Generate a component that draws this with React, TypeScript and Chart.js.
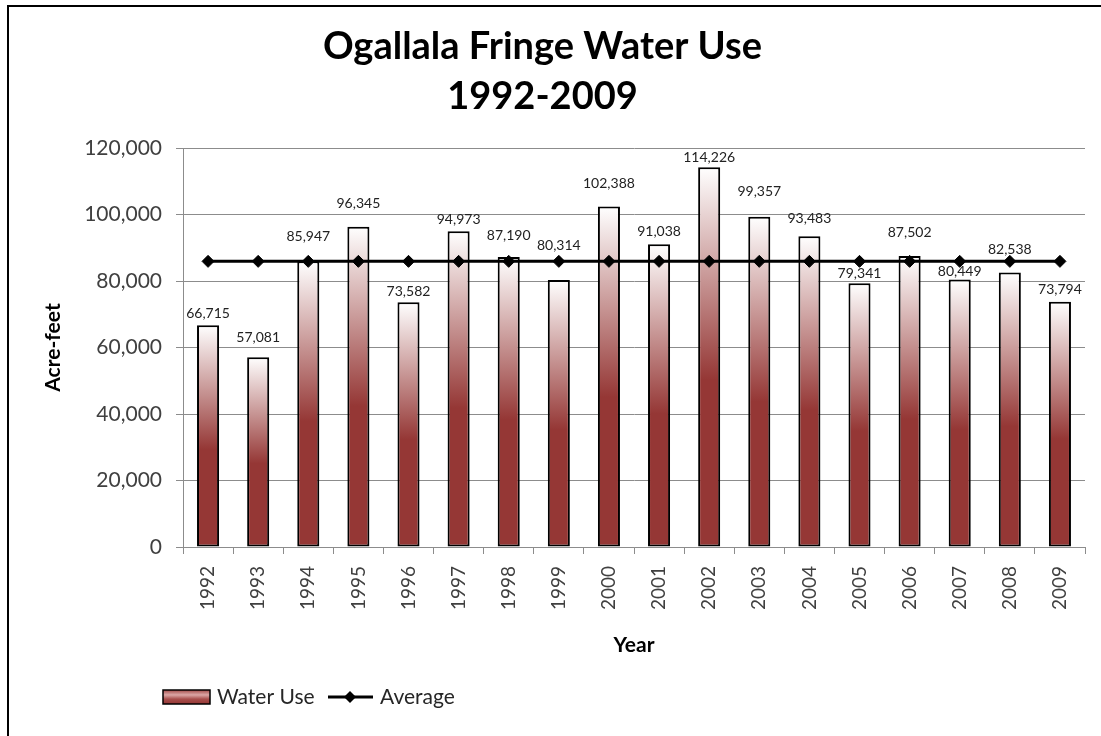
import React, { useEffect, useRef } from 'react';
import { Chart, registerables } from 'chart.js';

Chart.register(...registerables);

const years = ['1992', '1993', '1994', '1995', '1996', '1997', '1998', '1999', '2000', '2001', '2002', '2003', '2004', '2005', '2006', '2007', '2008', '2009'];
const waterUse = [66715, 57081, 85947, 96345, 73582, 94973, 87190, 80314, 102388, 91038, 114226, 99357, 93483, 79341, 87502, 80449, 82538, 73794];
const average = [85904, 85904, 85904, 85904, 85904, 85904, 85904, 85904, 85904, 85904, 85904, 85904, 85904, 85904, 85904, 85904, 85904, 85904];
const titleLines = ['Ogallala Fringe Water Use', '1992-2009'];
const seriesNames = ['Water Use', 'Average'];
// vertical lift (px) of each value label above its bar top, as placed in the reference
const labelLift = [12, 20, 25, 23, 11, 12, 22, 34, 23, 13, 10, 25, 18, 10, 24, 8, 23, 12];

const RED = '#953735';
const FONT = 'Lato';

const fmt = (v: number) => v.toLocaleString('en-US');

const valueLabels = {
  id: 'valueLabels',
  afterDatasetsDraw(chart: any) {
    const meta = chart.getDatasetMeta(1);
    const ctx = chart.ctx;
    ctx.save();
    ctx.font = `14px ${FONT}`;
    ctx.fillStyle = '#222222';
    ctx.textAlign = 'center';
    ctx.textBaseline = 'middle';
    meta.data.forEach((bar: any, i: number) => {
      ctx.fillText(fmt(waterUse[i]), bar.x, bar.y - labelLift[i]);
    });
    ctx.restore();
  },
};

const customLegend = {
  id: 'customLegend',
  afterDraw(chart: any) {
    const ctx = chart.ctx;
    const cy = 697;
    ctx.save();
    const bx = 163, bw = 47, by = cy - 7, bh = 14;
    const g = ctx.createLinearGradient(0, by, 0, by + bh);
    g.addColorStop(0, '#a24a48');
    g.addColorStop(0.35, '#dba7a6');
    g.addColorStop(0.65, '#a84e4c');
    g.addColorStop(1, RED);
    ctx.fillStyle = g;
    ctx.fillRect(bx, by, bw, bh);
    ctx.strokeStyle = '#000';
    ctx.lineWidth = 1.5;
    ctx.strokeRect(bx, by, bw, bh);
    ctx.font = `21px ${FONT}`;
    ctx.fillStyle = '#262626';
    ctx.textAlign = 'left';
    ctx.textBaseline = 'middle';
    ctx.fillText(seriesNames[0], 217, cy);
    ctx.beginPath();
    ctx.moveTo(328, cy);
    ctx.lineTo(373, cy);
    ctx.lineWidth = 3;
    ctx.stroke();
    ctx.beginPath();
    ctx.moveTo(350, cy - 6);
    ctx.lineTo(356, cy);
    ctx.lineTo(350, cy + 6);
    ctx.lineTo(344, cy);
    ctx.closePath();
    ctx.fillStyle = '#000';
    ctx.fill();
    ctx.fillStyle = '#262626';
    ctx.fillText(seriesNames[1], 380, cy);
    ctx.restore();
  },
};

export default function App() {
  const canvasRef = useRef<HTMLCanvasElement | null>(null);

  useEffect(() => {
    if (!canvasRef.current) return;
    const chart = new Chart(canvasRef.current, {
      type: 'bar',
      data: {
        labels: years,
        datasets: [
          {
            type: 'line',
            label: seriesNames[1],
            data: average,
            borderColor: '#000',
            borderWidth: 3,
            pointStyle: 'rectRot',
            pointRadius: 6,
            pointBackgroundColor: '#000',
            pointBorderColor: '#000',
            pointBorderWidth: 1,
            fill: false,
            tension: 0,
            order: 0,
          } as any,
          {
            type: 'bar',
            label: seriesNames[0],
            data: waterUse,
            backgroundColor: (c: any) => {
              const chart = c.chart;
              const { chartArea, scales } = chart;
              if (!chartArea || c.type !== 'data' || !scales.y) return RED;
              const top = scales.y.getPixelForValue(c.raw);
              const bot = scales.y.getPixelForValue(0);
              const g = chart.ctx.createLinearGradient(0, top, 0, bot);
              g.addColorStop(0, '#ffffff');
              g.addColorStop(0.56, RED);
              g.addColorStop(1, RED);
              return g;
            },
            borderColor: '#000',
            borderWidth: 2,
            borderSkipped: false,
            barPercentage: 0.44,
            categoryPercentage: 1,
            order: 1,
          } as any,
        ],
      },
      options: {
        responsive: false,
        animation: false,
        layout: { padding: { left: 0, top: 0, right: 16, bottom: 66 } },
        plugins: {
          legend: { display: false },
          tooltip: { enabled: false },
          title: {
            display: true,
            text: titleLines,
            color: '#000',
            font: { family: FONT, size: 38, weight: 'bold', lineHeight: '50px' },
            padding: { top: 22, bottom: 26 },
          },
        },
        scales: {
          x: {
            offset: true,
            grid: { display: true, drawOnChartArea: false, drawTicks: true, tickLength: 7, color: '#8c8c8c', offset: true },
            border: { display: true, color: '#8c8c8c', width: 1 },
            ticks: { minRotation: 90, maxRotation: 90, autoSkip: false, padding: 12, color: '#404040', font: { family: FONT, size: 19 } },
            title: { display: true, text: 'Year', color: '#000', font: { family: FONT, size: 21, weight: 'bold' }, padding: { top: 0, bottom: 12 } },
            afterFit: (s: any) => { s.height = 123; },
          },
          y: {
            min: 0,
            max: 120000,
            ticks: { stepSize: 20000, padding: 14, color: '#404040', font: { family: FONT, size: 21 }, callback: (v: any) => fmt(Number(v)) },
            grid: { color: '#8c8c8c', tickLength: 7, drawTicks: true },
            border: { display: true, color: '#8c8c8c', width: 1 },
            title: { display: true, text: 'Acre-feet', color: '#000', font: { family: FONT, size: 21, weight: 'bold' }, padding: { top: 41, bottom: 0 } },
            afterFit: (s: any) => { s.width = 183; },
          },
        },
      },
      plugins: [valueLabels, customLegend],
    });
    return () => chart.destroy();
  }, []);

  return (
    <div style={{ position: 'absolute', left: 0, top: 0, width: 1101, height: 736, overflow: 'hidden', background: '#fff' }}>
      <canvas ref={canvasRef} width={1101} height={736} style={{ display: 'block', width: 1101, height: 736 }} />
      <div style={{ position: 'absolute', left: 7, top: 5, width: 2000, height: 2000, borderLeft: '2px solid #000', borderTop: '2px solid #000', pointerEvents: 'none' }} />
    </div>
  );
}
